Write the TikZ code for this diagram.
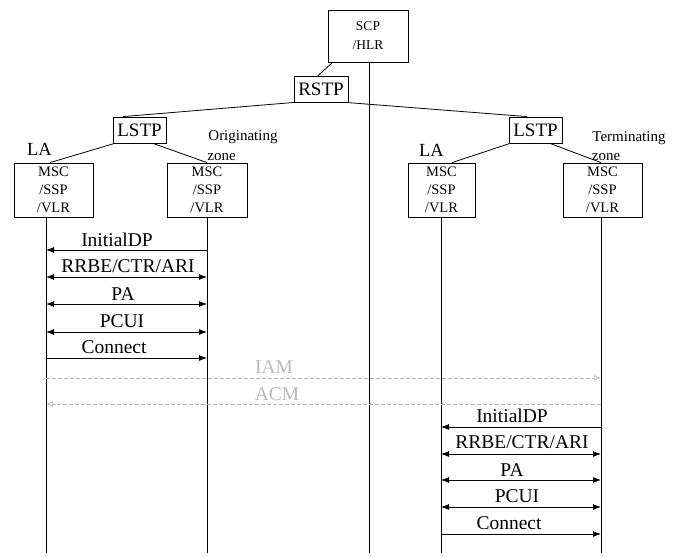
\documentclass[tikz,border=0pt]{standalone}
\usepackage{fontspec}
\setmainfont{Liberation Serif}
\usetikzlibrary{arrows.meta}
\begin{document}
\begin{tikzpicture}[x=1pt,y=-1pt,
  box/.style={draw,line width=0.8pt,inner sep=0pt,align=center},
  ln/.style={line width=0.8pt},
  lbl/.style={inner sep=0pt,font=\fontsize{19.5}{21}\selectfont},
  small/.style={inner sep=0pt,font=\fontsize{15}{17}\selectfont},
  msg/.style={line width=0.9pt,-{Latex[length=8pt,width=6pt]}},
  bmsg/.style={line width=0.9pt,{Latex[length=8pt,width=6pt]}-{Latex[length=8pt,width=6pt]}},
  dmsg/.style={gray!60,line width=0.7pt,dash pattern=on 4pt off 2pt,-{Latex[open,length=7pt,width=6pt]}},
  dlbl/.style={inner sep=0pt,text=gray!55,font=\fontsize{19.5}{21}\selectfont},
  mscbox/.style={box,minimum height=54pt,font=\fontsize{14.5}{18}\selectfont},
  stpbox/.style={box,minimum width=53pt,minimum height=26pt,font=\fontsize{19}{20}\selectfont},
]
\useasboundingbox (0,0) rectangle (686,557);
% boxes
\node[box,minimum width=80pt,minimum height=52pt,font=\fontsize{13.5}{19}\selectfont] (scp) at (368,36) {SCP\\/HLR};
\node[stpbox,minimum width=54pt] (rstp) at (321,89) {RSTP};
\node[stpbox] (lstpL) at (139.5,130) {LSTP};
\node[stpbox] (lstpR) at (535.5,130) {LSTP};
\node[mscbox,minimum width=79pt] (msc1) at (53.5,190) {MSC\\/SSP\\/VLR};
\node[mscbox,minimum width=80pt] (msc2) at (207,190) {MSC\\/SSP\\/VLR};
\node[mscbox,minimum width=67pt] (msc3) at (441.5,190) {MSC\\/SSP\\/VLR};
\node[mscbox,minimum width=79pt] (msc4) at (602.5,190) {MSC\\/SSP\\/VLR};
% area texts
\node[inner sep=0pt,font=\fontsize{18.5}{19}\selectfont] (laL) at (39.5,149) {LA};
\node[inner sep=0pt,font=\fontsize{18.5}{19}\selectfont] (laR) at (431.5,150) {LA};
\node[small] (orig) at (243,137) {Originating};
\node[small] (zoneL) at (221.5,157) {zone};
\node[small] (term) at (629,138) {Terminating};
\node[small] (zoneR) at (606,157) {zone};
% tree connectors
\draw[ln] ([xshift=5pt]scp.south west) -- ([xshift=-3pt]rstp.north);
\draw[ln] ([xshift=1pt]rstp.south west) -- ([xshift=-16.5pt]lstpL.north);
\draw[ln] ([xshift=-3pt]rstp.south east) -- ([xshift=-8.5pt]lstpR.north);
\draw[ln] ([xshift=2pt]lstpL.south west) -- ([xshift=-3.5pt]msc1.north);
\draw[ln] ([xshift=13.5pt]lstpL.south) -- (msc2.north);
\draw[ln] ([xshift=-25.5pt]lstpR.south) -- ([xshift=10.5pt]msc3.north);
\draw[ln] ([xshift=14.5pt]lstpR.south) -- ([xshift=-1.5pt]msc4.north);
% lifelines
\coordinate (l0) at (369,553);
\coordinate (l1) at (46,553);
\coordinate (l2) at (207,553);
\coordinate (l3) at (441,553);
\coordinate (l4) at (601,553);
\draw[ln] (scp.south -| l0) -- (l0);
\draw[ln] (msc1.south -| l1) -- (l1);
\draw[ln] (msc2.south -| l2) -- (l2);
\draw[ln] (msc3.south -| l3) -- (l3);
\draw[ln] (msc4.south -| l4) -- (l4);
% rows
\coordinate (r1) at (0,250);
\coordinate (r2) at (0,277);
\coordinate (r3) at (0,304);
\coordinate (r4) at (0,332);
\coordinate (r5) at (0,358);
\coordinate (r6) at (0,378);
\coordinate (r7) at (0,404);
\coordinate (r8) at (0,427);
\coordinate (r9) at (0,454);
\coordinate (r10) at (0,480);
\coordinate (r11) at (0,507);
\coordinate (r12) at (0,534);
% originating zone messages
\draw[msg] (l2 |- r1) -- (l1 |- r1);
\node[lbl] (t1) at (117,240) {InitialDP};
\draw[bmsg] (l1 |- r2) -- (l2 |- r2);
\node[lbl] (t2) at (128,266) {RRBE/CTR/ARI};
\draw[bmsg] (l1 |- r3) -- (l2 |- r3);
\node[lbl] (t3) at (123,294) {PA};
\draw[bmsg] (l1 |- r4) -- (l2 |- r4);
\node[lbl] (t4) at (122,321) {PCUI};
\draw[msg] (l1 |- r5) -- (l2 |- r5);
\node[lbl] (t5) at (114,347) {Connect};
% ISUP
\draw[dmsg] (l1 |- r6) -- (l4 |- r6);
\node[dlbl] (t6) at (274,367) {IAM};
\draw[dmsg] (l4 |- r7) -- (l1 |- r7);
\node[dlbl] (t7) at (277,394) {ACM};
% terminating zone messages
\draw[msg] (l4 |- r8) -- (l3 |- r8);
\node[lbl] (t8) at (512,416) {InitialDP};
\draw[bmsg] (l3 |- r9) -- (l4 |- r9);
\node[lbl] (t9) at (522,442) {RRBE/CTR/ARI};
\draw[bmsg] (l3 |- r10) -- (l4 |- r10);
\node[lbl] (t10) at (512,470) {PA};
\draw[bmsg] (l3 |- r11) -- (l4 |- r11);
\node[lbl] (t11) at (517,496) {PCUI};
\draw[msg] (l3 |- r12) -- (l4 |- r12);
\node[lbl] (t12) at (509,523) {Connect};
\end{tikzpicture}
\end{document}
